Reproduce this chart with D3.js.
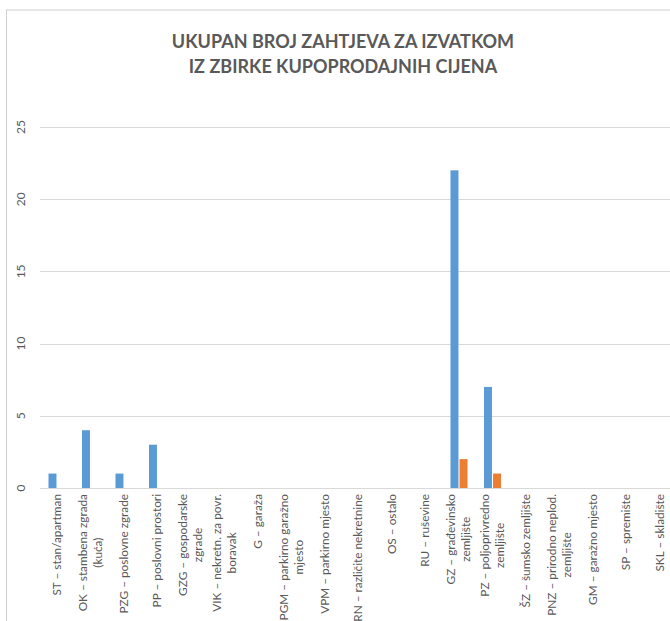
<!DOCTYPE html>
<html>
<head>
<meta charset="utf-8">
<script src="https://cdn.jsdelivr.net/npm/d3@7"></script>
<style>
  body { margin: 0; background: #fff; }
  svg text { font-family: Lato, "Open Sans", sans-serif; fill: #595959; }
</style>
</head>
<body>
<div id="chart"></div>
<script>
// category labels, one array of lines per category
const categories = [
  ["ST – stan/apartman"],
  ["OK – stambena zgrada", "(kuća)"],
  ["PZG – poslovne zgrade"],
  ["PP – poslovni prostori"],
  ["GZG – gospodarske", "zgrade"],
  ["VIK – nekretn. za povr.", "boravak"],
  ["G – garaža"],
  ["PGM – parkirno garažno", "mjesto"],
  ["VPM – parkirno mjesto"],
  ["RN – različite nekretnine"],
  ["OS – ostalo"],
  ["RU – ruševine"],
  ["GZ – građevinsko", "zemljište"],
  ["PZ – poljoprivredno", "zemljište"],
  ["ŠZ – šumsko zemljište"],
  ["PNZ – prirodno neplod.", "zemljište"],
  ["GM – garažno mjesto"],
  ["SP – spremište"],
  ["SKL – skladište"]
];
const series1 = [1, 4, 1, 3, 0, 0, 0, 0, 0, 0, 0, 0, 22, 7, 0, 0, 0, 0, 0];
const series2 = [0, 0, 0, 0, 0, 0, 0, 0, 0, 0, 0, 0, 2, 1, 0, 0, 0, 0, 0];
const yTicks = [0, 5, 10, 15, 20, 25];
const titleLines = ["UKUPAN BROJ ZAHTJEVA ZA IZVATKOM", "IZ ZBIRKE KUPOPRODAJNIH CIJENA"];

const W = 670, H = 621;
const PLOT = { LEFT: 40, TOP: 127, BOTTOM: 488, STEP: 33.5 };

const svg = d3.select("#chart").append("svg").attr("width", W).attr("height", H);

// chart frame (only top and left edges are visible)
svg.append("line").attr("x1", 6).attr("x2", W).attr("y1", 10).attr("y2", 10)
  .attr("stroke", "#e6e6e6").attr("stroke-width", 2);
svg.append("line").attr("x1", 6.5).attr("x2", 6.5).attr("y1", 10).attr("y2", H)
  .attr("stroke", "#d0d0d0");

// title
svg.append("text")
  .attr("text-anchor", "middle")
  .style("font-weight", "bold")
  .style("font-size", "18px")
  .selectAll("tspan").data(titleLines).enter().append("tspan")
  .attr("x", 343)
  .attr("y", (d, i) => 48 + i * 25)
  .text(d => d);

const keys = categories.map((d, i) => i);
const x = d3.scaleBand().domain(keys)
  .range([PLOT.LEFT, PLOT.LEFT + PLOT.STEP * keys.length]);
const xSub = d3.scaleBand().domain(["a", "b"]).range([8.5, 25.5]).paddingInner(0.12);
const y = d3.scaleLinear().domain([0, 25]).range([PLOT.BOTTOM, PLOT.TOP]);

// gridlines
svg.append("g").selectAll("line").data(yTicks).enter().append("line")
  .attr("x1", PLOT.LEFT).attr("x2", W)
  .attr("y1", d => Math.round(y(d)) + 0.5).attr("y2", d => Math.round(y(d)) + 0.5)
  .attr("stroke", "#d9d9d9");

// y tick labels (rotated)
svg.append("g").selectAll("text").data(yTicks).enter().append("text")
  .attr("transform", d => `translate(25, ${y(d)}) rotate(-90)`)
  .attr("text-anchor", "middle")
  .style("font-size", "12px")
  .text(d => d);

// bars
const rows = keys.map(i => [{ key: "a", value: series1[i] }, { key: "b", value: series2[i] }]);
const color = d3.scaleOrdinal().domain(["a", "b"]).range(["#5b9bd5", "#ed7d31"]);

svg.append("g").selectAll("g").data(rows).enter().append("g")
  .attr("transform", (d, i) => `translate(${x(i)}, 0)`)
  .selectAll("rect").data(d => d.filter(v => v.value > 0)).enter().append("rect")
  .attr("x", d => xSub(d.key))
  .attr("y", d => y(d.value))
  .attr("width", xSub.bandwidth())
  .attr("height", d => y(0) - y(d.value))
  .attr("fill", d => color(d.key));

// category labels, rotated, lines centred on the longest line
const labels = svg.append("g").selectAll("g").data(categories).enter().append("g")
  .attr("transform", (d, i) => `translate(${x(i) + x.bandwidth() / 2}, 494) rotate(-90)`);

labels.each(function (lines) {
  const g = d3.select(this);
  const t = g.selectAll("text").data(lines).enter().append("text")
    .attr("text-anchor", "middle")
    .attr("dy", "0.35em")
    .attr("y", (d, i) => (i - (lines.length - 1) / 2) * 15)
    .style("font-size", "11.8px")
    .text(d => d);
  const maxLen = d3.max(t.nodes(), n => n.getComputedTextLength());
  t.attr("x", -maxLen / 2);
});
</script>
</body>
</html>
